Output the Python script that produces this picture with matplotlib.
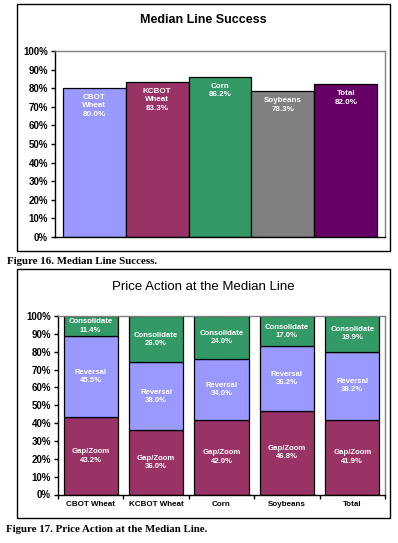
import matplotlib
matplotlib.use("Agg")
import matplotlib.pyplot as plt
from matplotlib.patches import Rectangle
from matplotlib.ticker import MultipleLocator, FuncFormatter

plt.rcParams['font.family'] = ['Liberation Sans', 'DejaVu Sans']

# figure 16 data
markets = ["CBOT Wheat", "KCBOT Wheat", "Corn", "Soybeans", "Total"]
bar_names = ["CBOT\nWheat", "KCBOT\nWheat", "Corn", "Soybeans", "Total"]
success = [80.0, 83.3, 86.2, 78.3, 82.0]
bar_colors = ["#9999FF", "#993366", "#339966", "#808080", "#660066"]

# figure 17 data
gap_zoom = [43.2, 36.0, 42.0, 46.8, 41.9]
reversal = [45.5, 38.0, 34.0, 36.2, 38.2]
consolidate = [11.4, 26.0, 24.0, 17.0, 19.9]
stack_names = ["Gap/Zoom", "Reversal", "Consolidate"]
stack_colors = ["#993366", "#9999FF", "#339966"]

W, H = 398, 543
fig = plt.figure(figsize=(W / 100, H / 100), dpi=100)


def px_axes(left, top, right, bottom):
    return fig.add_axes([left / W, 1 - bottom / H, (right - left) / W, (bottom - top) / H])


def px_box(left, top, right, bottom):
    fig.patches.append(Rectangle((left / W, 1 - bottom / H), (right - left) / W,
                                 (bottom - top) / H, transform=fig.transFigure,
                                 fill=False, edgecolor="black", linewidth=1.0))


def style_axes(ax):
    ax.set_ylim(0, 100)
    ax.yaxis.set_major_locator(MultipleLocator(10))
    ax.yaxis.set_major_formatter(FuncFormatter(lambda v, p: f"{v:.0f}%"))
    for s in ["left", "bottom"]:
        ax.spines[s].set_color("black")
        ax.spines[s].set_linewidth(1.0)
    for s in ["top", "right"]:
        ax.spines[s].set_color("#808080")
        ax.spines[s].set_linewidth(1.0)
    ax.tick_params(axis="y", direction="out", length=3, width=1, pad=2,
                   labelsize=7)
    for lab in ax.get_yticklabels():
        lab.set_fontweight("bold")


# ---- Figure 16 ----
px_box(17, 4, 390, 251)
ax1 = px_axes(55, 51, 385, 237)
x = range(len(markets))
ax1.bar(x, success, width=1.0, color=bar_colors, edgecolor="black", linewidth=0.9)
ax1.set_xlim(-0.62, 4.62)
ax1.set_xticks([])
style_axes(ax1)
for i, v in enumerate(success):
    ax1.text(i, v - 3.2, f"{bar_names[i]}\n{v:.1f}%", ha="center", va="top",
             color="white", fontsize=5.8, fontweight="bold", linespacing=1.25)
fig.text(203 / W, 1 - 20 / H, "Median Line Success", ha="center", va="center",
         fontsize=9, fontweight="bold")
fig.text(7 / W, 1 - 262 / H, "Figure 16. Median Line Success.", ha="left",
         va="center", fontsize=7.8, fontweight="bold", family="Liberation Serif")

# ---- Figure 17 ----
px_box(17, 269, 390, 518)
ax2 = px_axes(58, 316, 385, 494.5)
bottoms = [0.0] * len(markets)
for name, vals, col in zip(stack_names, [gap_zoom, reversal, consolidate], stack_colors):
    ax2.bar(x, vals, bottom=bottoms, width=0.83, color=col, edgecolor="black",
            linewidth=0.9)
    for i, v in enumerate(vals):
        ax2.text(i, bottoms[i] + v / 2, f"{name}\n{v:.1f}%", ha="center",
                 va="center", color="white", fontsize=5.6, fontweight="bold",
                 linespacing=1.25)
    bottoms = [b + v for b, v in zip(bottoms, vals)]
ax2.set_xlim(-0.5, 4.5)
style_axes(ax2)
ax2.set_xticks(list(x))
ax2.set_xticklabels(markets, fontsize=5.8, fontweight="bold")
ax2.set_xticks([i - 0.5 for i in range(len(markets) + 1)], minor=True)
ax2.tick_params(axis="x", which="major", length=0, pad=5)
ax2.tick_params(axis="x", which="minor", direction="out", length=3, width=1)
fig.text(203 / W, 1 - 287 / H, "Price Action at the Median Line", ha="center",
         va="center", fontsize=9.5)
fig.text(6 / W, 1 - 530 / H, "Figure 17. Price Action at the Median Line.",
         ha="left", va="center", fontsize=7.8, fontweight="bold",
         family="Liberation Serif")

fig.savefig("out.png", dpi=100)
